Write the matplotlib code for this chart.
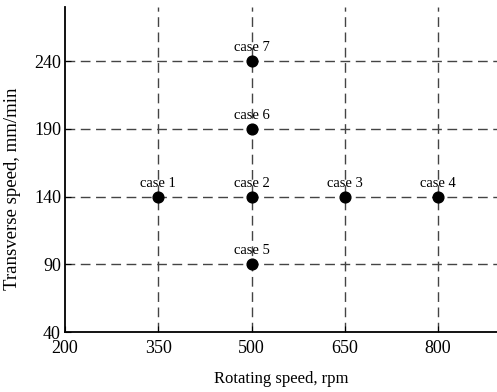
import matplotlib
matplotlib.use('Agg')
import matplotlib.pyplot as plt

plt.rcParams['font.family'] = ['Liberation Serif', 'DejaVu Serif']

# test matrix: rotating speed (rpm) vs transverse speed (mm/min)
cases = ['case 1', 'case 2', 'case 3', 'case 4', 'case 5', 'case 6', 'case 7']
rpm = [350, 500, 650, 800, 500, 500, 500]
feed = [140, 140, 140, 140, 90, 190, 240]

xticks = [200, 350, 500, 650, 800]
yticks = [40, 90, 140, 190, 240]

fig = plt.figure(figsize=(4.97, 3.92), dpi=100)
ax = fig.add_axes([0.131, 0.153, 0.869, 0.829])

# dashed guide lines through each level
for x in xticks[1:]:
    ax.axvline(x, color='#444444', lw=1.0, ls=(0, (7, 4)), zorder=1)
for y in yticks[1:]:
    ax.axhline(y, color='#444444', lw=1.0, ls=(0, (7, 4)), zorder=1)

ax.scatter(rpm, feed, s=60, color='black', zorder=3)
for name, x, y in zip(cases, rpm, feed):
    ax.annotate(name, (x, y), xytext=(0, 5), textcoords='offset points',
                ha='center', va='bottom', fontsize=10.5)

ax.set_xlim(200, 895)
ax.set_ylim(40, 280)
ax.set_xticks(xticks)
ax.set_yticks(yticks)
ax.tick_params(direction='in', length=4, labelsize=13, colors='black')
ax.tick_params(axis='x', pad=6)
ax.tick_params(axis='y', pad=3)
ax.spines['top'].set_visible(False)
ax.spines['right'].set_visible(False)
ax.spines['left'].set_linewidth(1.3)
ax.spines['bottom'].set_linewidth(1.3)

ax.set_xlabel('Rotating speed, rpm', fontsize=12, labelpad=10)
ax.set_ylabel('Transverse speed, mm/min', fontsize=13.5)
ax.yaxis.set_label_coords(-0.102, 0.44)

fig.savefig('out.png', dpi=100)
